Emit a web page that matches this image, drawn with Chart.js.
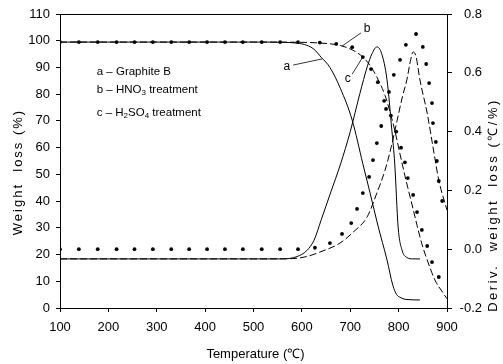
<!DOCTYPE html>
<html><head><meta charset="utf-8">
<script src="https://cdn.jsdelivr.net/npm/chart.js@4/dist/chart.umd.min.js"></script>
<style>html,body{margin:0;padding:0;background:#fff;}#wrap{width:503px;height:364px;}</style>
</head><body><div id="wrap"><canvas id="c" width="503" height="364"></canvas></div>
<script>
// ---- tick definitions ----
const xTicks = [100, 200, 300, 400, 500, 600, 700, 800, 900];
const yTicks = [0, 10, 20, 30, 40, 50, 60, 70, 80, 90, 100, 110];
const y1Ticks = [-0.2, 0.0, 0.2, 0.4, 0.6, 0.8];

// ---- Weight loss (left axis) ----
// a - Graphite B (solid)
const wA_T = [100, 300, 500, 560, 590, 610, 625, 640, 658, 680, 704, 726, 741, 757, 776, 788, 796, 803, 815, 844];
const wA_V = [99.5, 99.5, 99.5, 99.4, 99.1, 98.3, 96.8, 93.8, 90, 82, 70.3, 54, 43, 31, 18, 8.5, 5, 4, 3.2, 3];
// b - HNO3 treatment (dots)
const wB_T = [100, 139, 178, 217, 254, 292, 330, 367, 404, 441, 478, 517, 555, 592, 637, 671, 704, 726, 743, 757, 770, 784, 795, 805, 813, 819, 830, 838, 848, 859, 869, 883];
const wB_V = [99.5, 99.5, 99.5, 99.5, 99.5, 99.5, 99.5, 99.5, 99.5, 99.5, 99.5, 99.5, 99.5, 99.5, 99.3, 98.8, 97.6, 93.9, 89.4, 84.5, 77.5, 72, 66, 60, 54.5, 48.6, 42.3, 35.9, 29.2, 23.2, 17.2, 11.6];
// c - H2SO4 treatment (dashed)
const wC_T = [100, 300, 500, 600, 640, 680, 710, 726, 740, 755, 772, 782, 792, 803, 813, 819, 830, 838, 848, 859, 875, 892, 900];
const wC_V = [99.5, 99.5, 99.5, 99.4, 99.1, 98.2, 96, 93.9, 91, 86.4, 79.5, 73.5, 66.5, 57.5, 49.5, 45, 37, 31, 24, 18, 10.5, 5.6, 3.5];

// ---- Derivative weight loss (right axis) ----
const dA_T = [100, 300, 500, 560, 590, 610, 625, 640, 660, 680, 700, 720, 735, 745, 755, 765, 776, 786, 792, 799, 807, 817, 830, 844];
const dA_V = [-0.033, -0.033, -0.033, -0.033, -0.025, -0.005, 0.03, 0.10, 0.195, 0.29, 0.40, 0.53, 0.62, 0.665, 0.688, 0.665, 0.576, 0.405, 0.29, 0.075, -0.003, -0.028, -0.033, -0.033];
const dB_T = [100, 139, 178, 217, 254, 292, 330, 367, 404, 441, 478, 517, 555, 592, 627, 658, 683, 702, 714, 726, 739, 747, 755, 764, 774, 780, 790, 803, 815, 836, 850, 857, 863, 869, 871, 877, 879, 883, 890];
const dB_V = [0, 0, 0, 0, 0, 0, 0, 0, 0, 0, 0, 0, 0, 0, 0.005, 0.021, 0.052, 0.089, 0.137, 0.191, 0.246, 0.303, 0.361, 0.419, 0.477, 0.535, 0.593, 0.644, 0.695, 0.732, 0.688, 0.630, 0.565, 0.497, 0.429, 0.365, 0.300, 0.232, 0.164];
const dC_T = [100, 300, 500, 580, 610, 637, 679, 706, 735, 755, 772, 785, 797, 808, 817, 825, 830, 836, 844, 859, 871, 883, 900];
const dC_V = [-0.033, -0.033, -0.033, -0.032, -0.025, -0.01, 0.021, 0.058, 0.110, 0.191, 0.269, 0.35, 0.439, 0.52, 0.576, 0.645, 0.671, 0.655, 0.576, 0.463, 0.348, 0.235, 0.133];

// ---- texts ----
const legendRows = ["a \u2013 Graphite B", ["b \u2013 HNO", "3", " treatment"], ["c \u2013 H", "2", "SO", "4", " treatment"]];
const xTitle = "Temperature (\u2103)";
const yTitle = "Weight  loss (%)";
const y1Title = "Deriv.  weight  loss (\u2103/%)";

const pts = (T, V) => T.map((t, i) => ({x: t, y: V[i]}));
const FONT = "'Liberation Sans', Arial, sans-serif";

const line = (T, V, axis, dash) => ({
  data: pts(T, V), yAxisID: axis, borderColor: '#000', borderWidth: 1,
  borderDash: dash || [], pointRadius: 0, cubicInterpolationMode: 'monotone', showLine: true, fill: false
});
const dots = (T, V, axis) => ({
  data: pts(T, V), yAxisID: axis, showLine: false, pointRadius: 1.9, pointBorderWidth: 0,
  pointBackgroundColor: '#000', pointBorderColor: '#000', borderColor: '#000'
});

function toPx(chart, T, V) { return [chart.scales.x.getPixelForValue(T), chart.scales.y.getPixelForValue(V)]; }

const deco = {
  id: 'deco',
  afterDraw(chart) {
    const ctx = chart.ctx, a = chart.chartArea;
    ctx.save();
    ctx.strokeStyle = '#000'; ctx.lineWidth = 1;
    ctx.strokeRect(Math.round(a.left) + 0.5, Math.round(a.top) + 0.5, Math.round(a.right - a.left), Math.round(a.bottom - a.top));
    ctx.fillStyle = '#000';
    // legend
    ctx.font = '11.5px ' + FONT; ctx.textBaseline = 'middle'; ctx.textAlign = 'left';
    const legendPos = [[176, 88.3], [176, 81.6], [176, 73.0]];
    legendRows.forEach((row, i) => {
      let [x, y] = toPx(chart, legendPos[i][0], legendPos[i][1]);
      const parts = Array.isArray(row) ? row : [row];
      parts.forEach((p, j) => {
        const sub = (j % 2 === 1);
        ctx.font = (sub ? '8px ' : '11.5px ') + FONT;
        ctx.fillText(p, x, sub ? y + 3 : y);
        x += ctx.measureText(p).width;
      });
    });
    // curve labels with leaders
    ctx.font = '12px ' + FONT; ctx.textAlign = 'center';
    const labels = [
      {t: 'a', p: [569, 90.2], l: [[582, 90.9], [642, 93.2]]},
      {t: 'b', p: [735, 104.4], l: [[722, 102.9], [683, 98.0]]},
      {t: 'c', p: [695, 85.7], l: [[704, 87.5], [726, 93.9]]}
    ];
    labels.forEach(o => {
      const [x, y] = toPx(chart, o.p[0], o.p[1]);
      ctx.fillText(o.t, x, y);
      const [x1, y1] = toPx(chart, o.l[0][0], o.l[0][1]);
      const [x2, y2] = toPx(chart, o.l[1][0], o.l[1][1]);
      ctx.beginPath(); ctx.moveTo(x1, y1); ctx.lineTo(x2, y2); ctx.lineWidth = 0.8; ctx.stroke();
    });
    // axis titles
    ctx.font = '13px ' + FONT; ctx.textAlign = 'center';
    ctx.fillText(xTitle, (a.left + a.right) / 2 + 2, 354);
    ctx.save();
    if ('letterSpacing' in ctx) ctx.letterSpacing = '2px';
    ctx.translate(18, 172); ctx.rotate(-Math.PI / 2); ctx.fillText(yTitle, 0, 0);
    ctx.restore();
    ctx.save();
    if ('letterSpacing' in ctx) ctx.letterSpacing = '2.5px';
    ctx.font = '13px ' + FONT;
    ctx.translate(493, 205); ctx.rotate(-Math.PI / 2); ctx.fillText(y1Title, 0, 0);
    ctx.restore();
    ctx.restore();
  }
};

new Chart(document.getElementById('c'), {
  type: 'line',
  data: { datasets: [
    line(wA_T, wA_V, 'y'),
    dots(wB_T, wB_V, 'y'),
    line(wC_T, wC_V, 'y', [7, 3]),
    line(dA_T, dA_V, 'y1'),
    dots(dB_T, dB_V, 'y1'),
    line(dC_T, dC_V, 'y1', [7, 3])
  ]},
  options: {
    responsive: false, animation: false, devicePixelRatio: 1,
    layout: { padding: { top: 14, right: 21, left: 0, bottom: 0 } },
    plugins: { legend: { display: false }, tooltip: { enabled: false } },
    scales: {
      x: {
        type: 'linear', min: 100, max: 900,
        afterBuildTicks: s => { s.ticks = xTicks.map(v => ({value: v})); },
        ticks: { font: { size: 13, family: FONT }, color: '#000', padding: 8, maxRotation: 0 },
        grid: { display: true, drawOnChartArea: false, drawTicks: true, tickLength: 4, color: '#000' },
        border: { display: true, color: '#000' },
        afterFit: s => { s.height = 56; }
      },
      y: {
        position: 'left', min: 0, max: 110,
        afterBuildTicks: s => { s.ticks = yTicks.map(v => ({value: v})); },
        ticks: { font: { size: 13, family: FONT }, color: '#000', padding: 6 },
        grid: { display: true, drawOnChartArea: false, drawTicks: true, tickLength: 4, color: '#000' },
        border: { display: true, color: '#000' },
        afterFit: s => { s.width = 60; }
      },
      y1: {
        position: 'right', min: -0.2, max: 0.8,
        afterBuildTicks: s => { s.ticks = y1Ticks.map(v => ({value: v})); },
        ticks: { font: { size: 13, family: FONT }, color: '#000', padding: 6, crossAlign: 'far', callback: v => Number(v).toFixed(1) },
        grid: { display: true, drawOnChartArea: false, drawTicks: true, tickLength: 5, color: '#000' },
        border: { display: true, color: '#000' },
        afterFit: s => { s.width = 35; }
      }
    }
  },
  plugins: [deco]
});
</script>
</body></html>
